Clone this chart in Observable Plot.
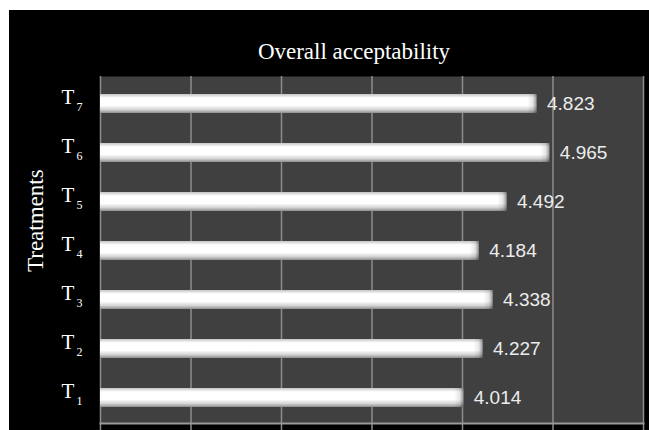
<!DOCTYPE html>
<html>
<head>
<meta charset="utf-8">
<script src="https://cdn.jsdelivr.net/npm/d3@7"></script>
<script src="https://cdn.jsdelivr.net/npm/@observablehq/plot@0.6"></script>
<style>
  html, body { margin: 0; padding: 0; background: #ffffff; }
  #wrap { position: absolute; left: 9px; top: 10px; width: 640px; height: 420px; background: #000; }
  svg { display: block; }
</style>
</head>
<body>
<div id="wrap"></div>
<script>
const treatments = ["T1", "T2", "T3", "T4", "T5", "T6", "T7"];
const subscripts = ["1", "2", "3", "4", "5", "6", "7"];
const values = [4.014, 4.227, 4.338, 4.184, 4.492, 4.965, 4.823];
const xTicks = [0, 1, 2, 3, 4, 5, 6];
const title = "Overall acceptability";
const yTitle = "Treatments";

const data = treatments.map((t, i) => ({t, sub: subscripts[i], value: values[i]}));

const chart = Plot.plot({
  width: 640,
  height: 420,
  marginTop: 66,
  marginLeft: 91,
  marginRight: 6,
  marginBottom: 7,
  style: {background: "#000", color: "#fff"},
  x: {domain: [0, 6], axis: null, label: null},
  y: {domain: treatments.slice().reverse(), padding: 0, axis: null, label: null},
  marks: [
    Plot.frame({fill: "#404040", stroke: null}),
    Plot.gridX(xTicks, {stroke: "#8c8c8c", strokeOpacity: 1, strokeWidth: 1.5}),
    Plot.axisX(xTicks, {tickSize: 7, tickFormat: () => "", label: null, stroke: "#8c8c8c", strokeWidth: 1.5}),
    Plot.frame({anchor: "bottom", stroke: "#9a9a9a", strokeWidth: 2}),
    Plot.barX(data, {x: "value", y: "t", fill: "url(#barGrad)", insetTop: 16, insetBottom: 14}),
    Plot.barX(data, {x1: d => d.value - 0.1, x2: "value", y: "t", fill: "url(#endGrad)", insetTop: 16, insetBottom: 14}),
    Plot.text(data, {x: "value", y: "t", text: d => d.value.toFixed(3), textAnchor: "start", dx: 10, dy: 1,
      fill: "#ececec", fontSize: 19, fontFamily: "Liberation Sans, Arial, sans-serif"}),
    Plot.text(data, {y: "t", text: () => "T", frameAnchor: "left", textAnchor: "start", dx: -39, dy: -6,
      fill: "#fff", fontSize: 21, fontFamily: "Liberation Serif, Times New Roman, serif"}),
    Plot.text(data, {y: "t", text: "sub", frameAnchor: "left", textAnchor: "start", dx: -24, dy: 4,
      fill: "#fff", fontSize: 12, fontFamily: "Liberation Serif, Times New Roman, serif"}),
    Plot.text([title], {frameAnchor: "top", dx: -18, dy: -34, fill: "#fff", fontSize: 23,
      fontFamily: "Liberation Serif, Times New Roman, serif"}),
    Plot.text([yTitle], {frameAnchor: "left", dx: -65, dy: 22, rotate: -90, fill: "#fff", fontSize: 23,
      fontFamily: "Liberation Serif, Times New Roman, serif"})
  ]
});

const defs = d3.select(chart).insert("defs", ":first-child");
const g1 = defs.append("linearGradient").attr("id", "barGrad").attr("x1", 0).attr("y1", 0).attr("x2", 0).attr("y2", 1);
[[0, "#c4c4c4"], [0.2, "#ffffff"], [0.6, "#ffffff"], [0.82, "#d4d4d4"], [1, "#8e8e8e"]].forEach(([o, c]) =>
  g1.append("stop").attr("offset", o).attr("stop-color", c));
const g2 = defs.append("linearGradient").attr("id", "endGrad").attr("x1", 0).attr("y1", 0).attr("x2", 1).attr("y2", 0);
[[0, "#000", 0], [0.6, "#000", 0.1], [1, "#000", 0.4]].forEach(([o, c, a]) =>
  g2.append("stop").attr("offset", o).attr("stop-color", c).attr("stop-opacity", a));

document.getElementById("wrap").appendChild(chart);
</script>
</body>
</html>
